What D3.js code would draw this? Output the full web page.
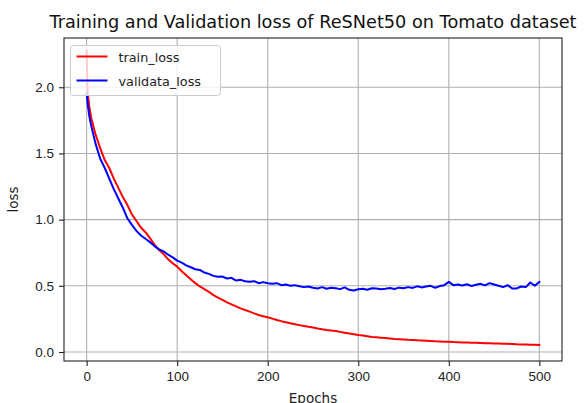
<!DOCTYPE html>
<html>
<head>
<meta charset="utf-8">
<script src="https://cdn.jsdelivr.net/npm/d3@7"></script>
<style>
  body { margin: 0; background: #fff; }
  svg { display: block; font-family: "DejaVu Sans", sans-serif; }
  .axis text { fill: #222; font-size: 13.5px; }
  .axis line { stroke: #222; stroke-width: 1.1; }
  .grid line { stroke: #b0b0b0; stroke-width: 1.1; }
</style>
</head>
<body>
<svg id="chart"></svg>
<script>
// epochs (denser at the start where the curves drop fast)
const epochs = [0, 1, 3, 5, 10, 15, 20, 25, 30, 35, 40, 45, 50, 55, 60, 65, 70, 75, 80, 85, 90, 95,
  100, 105, 110, 115, 120, 125, 130, 135, 140, 145, 150, 155, 160, 165, 170, 175, 180, 185, 190, 195,
  200, 205, 210, 215, 220, 225, 230, 235, 240, 245, 250, 255, 260, 265, 270, 275, 280, 285, 290, 295,
  300, 305, 310, 315, 320, 325, 330, 335, 340, 345, 350, 355, 360, 365, 370, 375, 380, 385, 390, 395,
  400, 405, 410, 415, 420, 425, 430, 435, 440, 445, 450, 455, 460, 465, 470, 475, 480, 485, 490, 495, 500];

const trainLoss = [2.28, 1.97, 1.85, 1.77, 1.64, 1.54, 1.45, 1.39, 1.31, 1.24, 1.17, 1.11, 1.04, 0.99, 0.94, 0.905, 0.86, 0.81, 0.77, 0.74, 0.70, 0.67,
  0.645, 0.61, 0.58, 0.55, 0.52, 0.495, 0.475, 0.455, 0.43, 0.41, 0.393, 0.375, 0.36, 0.345, 0.33, 0.317, 0.305, 0.292, 0.28, 0.27,
  0.262, 0.252, 0.242, 0.233, 0.225, 0.217, 0.21, 0.203, 0.196, 0.19, 0.185, 0.178, 0.172, 0.167, 0.163, 0.158, 0.152, 0.146, 0.14, 0.134,
  0.128, 0.124, 0.119, 0.114, 0.111, 0.108, 0.105, 0.102, 0.099, 0.097, 0.095, 0.092, 0.09, 0.088, 0.087, 0.085, 0.083, 0.081, 0.08, 0.078,
  0.077, 0.075, 0.074, 0.072, 0.071, 0.07, 0.069, 0.068, 0.067, 0.066, 0.065, 0.064, 0.063, 0.062, 0.06, 0.058, 0.057, 0.056, 0.055, 0.054, 0.053];

const validLoss = [1.96, 1.88, 1.78, 1.71, 1.57, 1.46, 1.39, 1.31, 1.23, 1.16, 1.09, 1.01, 0.96, 0.915, 0.88, 0.855, 0.83, 0.80, 0.775, 0.76, 0.735, 0.715,
  0.69, 0.675, 0.655, 0.64, 0.625, 0.62, 0.60, 0.59, 0.575, 0.568, 0.57, 0.555, 0.56, 0.54, 0.545, 0.535, 0.53, 0.535, 0.52, 0.528,
  0.519, 0.515, 0.52, 0.505, 0.51, 0.50, 0.505, 0.497, 0.49, 0.495, 0.486, 0.48, 0.49, 0.478, 0.485, 0.481, 0.475, 0.488, 0.47, 0.465,
  0.474, 0.478, 0.47, 0.482, 0.479, 0.474, 0.478, 0.483, 0.476, 0.486, 0.481, 0.49, 0.484, 0.496, 0.488, 0.494, 0.50, 0.485, 0.498, 0.505,
  0.53, 0.505, 0.51, 0.502, 0.512, 0.499, 0.508, 0.515, 0.503, 0.52, 0.51, 0.50, 0.49, 0.505, 0.48, 0.48, 0.495, 0.49, 0.525, 0.50, 0.53];

const xTicks = [0, 100, 200, 300, 400, 500];
const yTicks = [0.0, 0.5, 1.0, 1.5, 2.0];
const seriesNames = ["train_loss", "validata_loss"];
const seriesColors = ["red", "blue"];

const svgWidth = 584, svgHeight = 403;
const plot = { left: 64, top: 38, right: 562, bottom: 361 };

const svg = d3.select("#chart")
    .attr("width", svgWidth)
    .attr("height", svgHeight);

svg.append("rect")
    .attr("width", svgWidth)
    .attr("height", svgHeight)
    .attr("fill", "#fff");

const x = d3.scaleLinear().domain([-25, 525]).range([plot.left, plot.right]);
const y = d3.scaleLinear().domain([-0.068, 2.372]).range([plot.bottom, plot.top]);

// grid
const grid = svg.append("g").attr("class", "grid");
grid.selectAll(".gx").data(xTicks).enter().append("line")
    .attr("x1", d => x(d)).attr("x2", d => x(d))
    .attr("y1", plot.top).attr("y2", plot.bottom);
grid.selectAll(".gy").data(yTicks).enter().append("line")
    .attr("x1", plot.left).attr("x2", plot.right)
    .attr("y1", d => y(d)).attr("y2", d => y(d));

// lines
const series = [trainLoss, validLoss];
const line = d3.line()
    .x((d, i) => x(epochs[i]))
    .y(d => y(d));

svg.append("g")
    .selectAll("path")
    .data(series)
    .enter().append("path")
    .attr("fill", "none")
    .attr("stroke", (d, i) => seriesColors[i])
    .attr("stroke-width", 2)
    .attr("stroke-linejoin", "round")
    .attr("stroke-linecap", "square")
    .attr("d", line);

// axes
const xAxis = d3.axisBottom(x).tickValues(xTicks).tickFormat(d3.format("d"))
    .tickSizeOuter(0).tickSize(5).tickPadding(5);
const yAxis = d3.axisLeft(y).tickValues(yTicks).tickFormat(d3.format(".1f"))
    .tickSizeOuter(0).tickSize(5).tickPadding(5);

svg.append("g")
    .attr("class", "axis")
    .attr("transform", "translate(0," + plot.bottom + ")")
    .call(xAxis)
    .call(g => g.select(".domain").remove());

svg.append("g")
    .attr("class", "axis")
    .attr("transform", "translate(" + plot.left + ",0)")
    .call(yAxis)
    .call(g => g.select(".domain").remove());

svg.selectAll(".axis text").attr("font-family", null).attr("font-size", null);

// frame
svg.append("rect")
    .attr("x", plot.left).attr("y", plot.top)
    .attr("width", plot.right - plot.left)
    .attr("height", plot.bottom - plot.top)
    .attr("fill", "none")
    .attr("stroke", "#222")
    .attr("stroke-width", 1.1);

// title + labels
svg.append("text")
    .attr("x", (plot.left + plot.right) / 2)
    .attr("y", 27.5)
    .attr("text-anchor", "middle")
    .attr("font-size", "17.7px")
    .attr("fill", "#111")
    .text("Training and Validation loss of ReSNet50 on Tomato dataset");

svg.append("text")
    .attr("x", (plot.left + plot.right) / 2)
    .attr("y", 403)
    .attr("text-anchor", "middle")
    .attr("font-size", "13.5px")
    .attr("fill", "#222")
    .text("Epochs");

svg.append("text")
    .attr("transform", "translate(18," + (plot.top + plot.bottom) / 2 + ") rotate(-90)")
    .attr("text-anchor", "middle")
    .attr("font-size", "13.5px")
    .attr("fill", "#222")
    .text("loss");

// legend
const legend = svg.append("g").attr("transform", "translate(70.5,45.5)");
legend.append("rect")
    .attr("width", 150).attr("height", 50)
    .attr("rx", 3)
    .attr("fill", "#fff").attr("fill-opacity", 0.8)
    .attr("stroke", "#cccccc").attr("stroke-width", 1);

const items = legend.selectAll(".item").data(seriesNames).enter().append("g")
    .attr("transform", (d, i) => "translate(0," + (11 + i * 24) + ")");
items.append("line")
    .attr("x1", 6).attr("x2", 37)
    .attr("stroke", (d, i) => seriesColors[i])
    .attr("stroke-width", 2);
items.append("text")
    .attr("x", 48).attr("y", 5)
    .attr("font-size", "12.8px")
    .attr("fill", "#222")
    .text(d => d);
</script>
</body>
</html>
